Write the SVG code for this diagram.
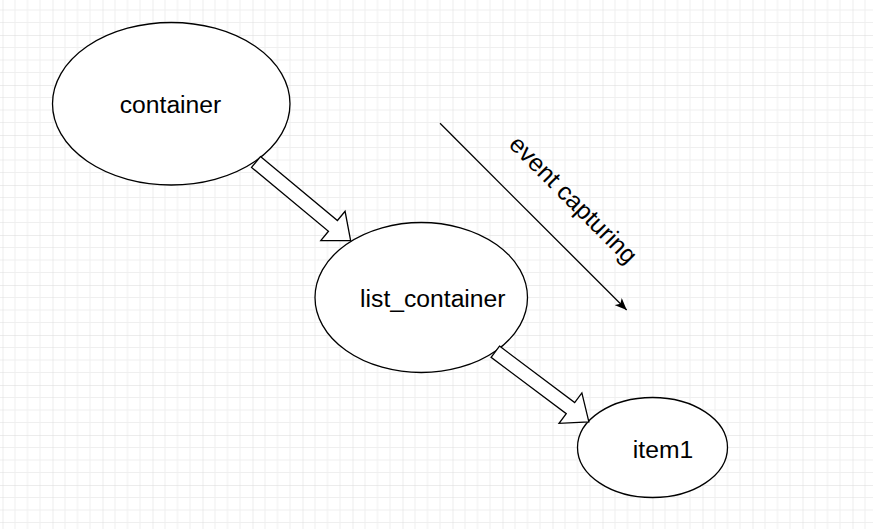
<svg xmlns="http://www.w3.org/2000/svg" width="873" height="529" viewBox="0 0 873 529">
<style>
.node{fill:#ffffff;stroke:#000000;stroke-width:1.3}
.lbl{font-family:"Liberation Sans",Arial,sans-serif;font-size:24.7px;fill:#000000;text-anchor:middle}
.flex{fill:#ffffff;stroke:#000000;stroke-width:1.3;stroke-linejoin:miter}
.edge{fill:none;stroke:#000000;stroke-width:1.3}
</style>
<defs>
<pattern id="grid" patternUnits="userSpaceOnUse" x="2.5" y="35" width="50" height="50">
<path d="M12.5 0V50M25 0V50M37.5 0V50M0 12.5H50M0 25H50M0 37.5H50" stroke="#efefef" stroke-width="1" fill="none"/>
<path d="M0 0V50M0 0H50" stroke="#d9d9d9" stroke-width="1" fill="none"/>
</pattern>
<marker id="classic" viewBox="0 0 12 10" refX="12" refY="5" markerWidth="12" markerHeight="10" markerUnits="userSpaceOnUse" orient="auto">
<path d="M0 0L12 5L0 10L3 5Z" fill="#000000"/>
</marker>
</defs>
<rect width="873" height="529" fill="#ffffff"/>
<rect width="873" height="529" fill="url(#grid)"/>

<g id="container">
<ellipse class="node" cx="171.25" cy="103.75" rx="118.75" ry="81.25"/>
<text class="lbl" x="170.5" y="113.3">container</text>
</g>
<g id="list_container">
<ellipse class="node" cx="421.25" cy="297.5" rx="106.25" ry="75"/>
<text class="lbl" x="432.8" y="307.3">list_container</text>
</g>
<g id="item1">
<ellipse class="node" cx="652.5" cy="447.5" rx="75" ry="50"/>
<text class="lbl" x="663" y="457.7">item1</text>
</g>

<g id="connectors">
<polygon class="flex" transform="translate(256,162) rotate(39.7)" points="0,-7 100,-7 100,-19 123,0 100,19 100,7 0,7"/>
<polygon class="flex" transform="translate(495.3,351.7) rotate(36.9)" points="0,-7 94,-7 94,-19 117,0 94,19 94,7 0,7"/>
<line class="edge" x1="440" y1="123.3" x2="626.7" y2="310" marker-end="url(#classic)"/>
<text class="lbl" transform="translate(567.5,205.5) rotate(45)" x="0" y="0">event capturing</text>
</g>
</svg>
